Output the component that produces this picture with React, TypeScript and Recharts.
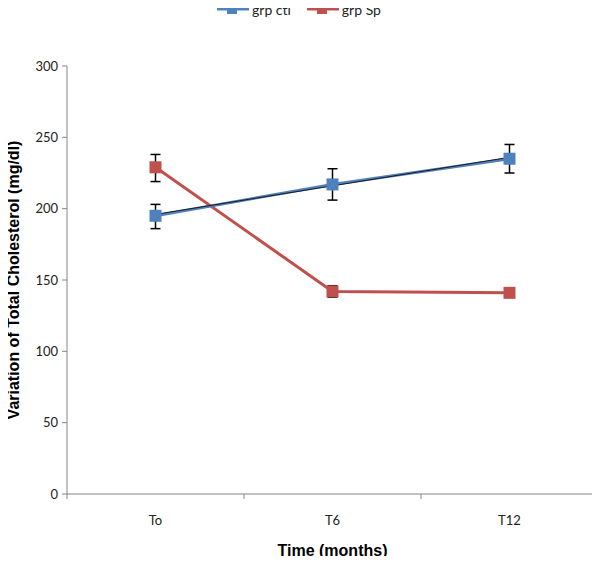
import {
  LineChart,
  Line,
  XAxis,
  YAxis,
  ErrorBar,
} from "recharts";

// Data
const times = ["To", "T6", "T12"];
const ctlValues = [195, 217, 235];
const ctlErrors = [[9, 8], [11, 11], [10, 10]];
const spValues = [229, 142, 141];
const spErrors = [[10, 9], [4, 4], [0, 0]];
const ctlTrend = [196, 216, 236];
const yTicks = [0, 50, 100, 150, 200, 250, 300];

const data = times.map((t, i) => ({
  time: t,
  ctl: ctlValues[i],
  ctlErr: ctlErrors[i],
  sp: spValues[i],
  spErr: spErrors[i],
  trend: ctlTrend[i],
}));

const BLUE = "#4F81BD";
const RED = "#C0504D";
const AXIS = "#868686";
const TICK_FONT = "Lato, 'Open Sans', sans-serif";
const TITLE_FONT = "'Liberation Sans', Arial, sans-serif";

const CHART_W = 600;
const CHART_H = 564;
const MARGIN = { top: 66, right: 2, left: 0, bottom: 0 };
const Y_W = 67;
const BAND = (CHART_W - Y_W - MARGIN.right) / times.length;

const SquareDot = (color: string) => (props: any) => {
  const { cx, cy, index } = props;
  if (cx == null || cy == null) return null;
  return (
    <rect
      key={`dot-${color}-${index}`}
      x={cx - 6}
      y={cy - 6}
      width={12}
      height={12}
      fill={color}
    />
  );
};

const XTick = (props: any) => {
  const { x, y, payload, index } = props;
  const last = index === times.length - 1;
  return (
    <g>
      <line x1={x - BAND / 2} y1={y} x2={x - BAND / 2} y2={y + 5} stroke={AXIS} />
      {last && (
        <line x1={x + BAND / 2} y1={y} x2={x + BAND / 2} y2={y + 5} stroke={AXIS} />
      )}
      <text
        x={x}
        y={y + 31}
        textAnchor="middle"
        fontSize={13}
        fontFamily={TICK_FONT}
        fill="#222"
      >
        {payload.value}
      </text>
    </g>
  );
};

const LegendItem = ({ color, label }: { color: string; label: string }) => (
  <div style={{ display: "flex", alignItems: "center", marginRight: 16 }}>
    <svg width={32} height={12}>
      <line x1={0} y1={6} x2={32} y2={6} stroke={color} strokeWidth={3} />
      <rect x={10} y={1} width={10} height={10} fill={color} />
    </svg>
    <span
      style={{
        fontFamily: TICK_FONT,
        fontSize: 14,
        color: "#222",
        marginLeft: 3,
      }}
    >
      {label}
    </span>
  </div>
);

const App = () => {
  return (
    <div
      style={{
        position: "relative",
        width: CHART_W,
        height: CHART_H,
        margin: -8,
        background: "#fff",
      }}
    >
      <div
        style={{
          position: "absolute",
          top: -1,
          left: 217,
          height: 20,
          display: "flex",
          alignItems: "center",
        }}
      >
        <LegendItem color={BLUE} label="grp ctl" />
        <LegendItem color={RED} label="grp Sp" />
      </div>
      <LineChart width={CHART_W} height={CHART_H} data={data} margin={MARGIN}>
        <XAxis
          dataKey="time"
          height={CHART_H - 494}
          stroke={AXIS}
          tickLine={false}
          tickSize={0}
          tickMargin={0}
          tick={<XTick />}
          interval={0}
          padding={{ left: BAND / 2, right: BAND / 2 }}
          label={{
            value: "Time (months)",
            position: "insideBottom",
            offset: 8,
            style: {
              fontFamily: TITLE_FONT,
              fontWeight: "bold",
              fontSize: 16,
              fill: "#000",
            },
          }}
        />
        <YAxis
          width={Y_W}
          domain={[0, 300]}
          ticks={yTicks}
          interval={0}
          stroke={AXIS}
          tickSize={5}
          tickMargin={4}
          tick={{ fontFamily: TICK_FONT, fontSize: 13, fill: "#222" }}
          label={{
            value: "Variation of Total Cholesterol (mg/dl)",
            angle: -90,
            position: "insideLeft",
            offset: 13,
            style: {
              textAnchor: "middle",
              fontFamily: TITLE_FONT,
              fontWeight: "bold",
              fontSize: 16,
              fill: "#000",
            },
          }}
        />
        <Line
          dataKey="sp"
          stroke={RED}
          strokeWidth={3}
          dot={SquareDot(RED)}
          activeDot={false}
          isAnimationActive={false}
        >
          <ErrorBar dataKey="spErr" width={5} stroke="#000" strokeWidth={1.5} />
        </Line>
        <Line
          dataKey="ctl"
          stroke={BLUE}
          strokeWidth={3}
          dot={SquareDot(BLUE)}
          activeDot={false}
          isAnimationActive={false}
        >
          <ErrorBar dataKey="ctlErr" width={5} stroke="#000" strokeWidth={1.5} />
        </Line>
        <Line
          dataKey="trend"
          stroke="#1a1a1a"
          strokeWidth={1}
          dot={false}
          activeDot={false}
          isAnimationActive={false}
        />
      </LineChart>
    </div>
  );
};

export default App;
